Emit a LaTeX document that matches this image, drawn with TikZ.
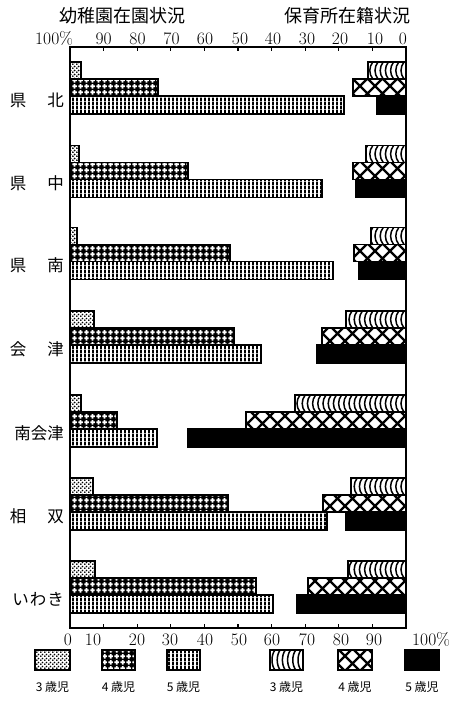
\documentclass[tikz,border=0pt]{standalone}
\usepackage{fontspec}
\usepackage{tikz}
\usetikzlibrary{patterns,positioning}
\newfontfamily\jp{Noto Sans CJK JP}

\pgfdeclarepatternformonly{finedots}{\pgfqpoint{0pt}{0pt}}{\pgfqpoint{4pt}{4pt}}{\pgfqpoint{4pt}{4pt}}{%
  \pgfpathcircle{\pgfqpoint{1pt}{1pt}}{1.15pt}
  \pgfpathcircle{\pgfqpoint{3pt}{3pt}}{1.15pt}
  \pgfusepath{fill}}
\pgfdeclarepatternformonly{whiteplus}{\pgfqpoint{0pt}{0pt}}{\pgfqpoint{6pt}{6pt}}{\pgfqpoint{6pt}{6pt}}{%
  \pgfpathrectangle{\pgfqpoint{2pt}{0.5pt}}{\pgfqpoint{2pt}{5pt}}
  \pgfpathrectangle{\pgfqpoint{0.5pt}{2pt}}{\pgfqpoint{5pt}{2pt}}
  \pgfusepath{fill}}
\pgfdeclarepatternformonly{vstripes}{\pgfqpoint{0pt}{0pt}}{\pgfqpoint{4pt}{4pt}}{\pgfqpoint{4pt}{4pt}}{%
  \pgfpathrectangle{\pgfqpoint{0pt}{0pt}}{\pgfqpoint{2.2pt}{4pt}}
  \pgfusepath{fill}}
\pgfdeclarepatternformonly{bigcross}{\pgfqpoint{-1pt}{-1pt}}{\pgfqpoint{16pt}{16pt}}{\pgfqpoint{15pt}{15pt}}{%
  \pgfsetlinewidth{2.3pt}
  \pgfpathmoveto{\pgfqpoint{-1pt}{-1pt}}\pgfpathlineto{\pgfqpoint{16pt}{16pt}}
  \pgfpathmoveto{\pgfqpoint{-1pt}{16pt}}\pgfpathlineto{\pgfqpoint{16pt}{-1pt}}
  \pgfusepath{stroke}}

\tikzset{
  bar/.style={draw=black,line width=1.3pt},
  kthree/.style={bar,pattern=finedots},
  kfour/.style={bar,preaction={fill=black},pattern=whiteplus,pattern color=white},
  kfive/.style={bar,pattern=vstripes},
  nfour/.style={bar,pattern=bigcross},
  nfive/.style={bar,fill=black},
  num/.style={font=\fontsize{17.5}{17.5}\selectfont,anchor=base,inner sep=0pt},
  area/.style={font=\jp\fontsize{16.5}{17}\selectfont,anchor=east,inner sep=0pt},
  head/.style={font=\jp\fontsize{18}{18}\selectfont,inner sep=0pt},
  key/.style={font=\jp\fontsize{12}{12}\selectfont,inner sep=0pt}
}

\newcommand{\wavebar}[4]{%
  \begin{scope}
    \clip (#1,#2) rectangle (#3,#4);
    \foreach \i in {0,...,24}
      \draw[line width=1.5pt] ({#3-2-5.2*\i},#2) .. controls ({#3-6-5.2*\i},{#2+5}) and ({#3-6-5.2*\i},{#4-5}) .. ({#3-2-5.2*\i},#4);
  \end{scope}
  \draw[bar] (#1,#2) rectangle (#3,#4);}

\begin{document}
\begin{tikzpicture}[x=1pt,y=-1pt]
      \useasboundingbox (0,0) rectangle (454,701);
      \node[head] at (122.5,15.5) (kinder) {幼稚園在園状況};
      \node[head] at (347,15.5) (hoiku) {保育所在籍状況};
      \foreach \x/\t [count=\n] in {54/100\%,103.6/90,137.5/80,171.5/70,205/60,240/50,273/40,307/30,340/20,375/10,403/0}
        \node[num] at (\x,45) (top\n) {\t};
      \foreach \x/\t [count=\n] in {68/0,93/10,137/20,170/30,205/40,239/50,272/60,307/70,341/80,374/90,431/100\%}
        \node[num] at (\x,645) (bot\n) {\t};
      \node[area] at (64,100) (kenpoku) {県\hspace{21pt}北};
      \node[area] at (64,183.5) (kenchu) {県\hspace{21pt}中};
      \node[area] at (64,265.5) (kennan) {県\hspace{21pt}南};
      \node[area] at (64,349) (aizu) {会\hspace{21pt}津};
      \node[area] at (64,433) (minamiaizu) {南会津};
      \node[area] at (64,516) (soso) {相\hspace{21pt}双};
      \node[area] at (64,599.5) (iwaki) {い\hspace{1pt}わ\hspace{1pt}き};
      \draw[kthree] (70,62) rectangle (81,79);
      \draw[kfour] (70,79) rectangle (158,96);
      \draw[kfive] (70,96) rectangle (344,114);
      \wavebar{368}{62}{406}{79}
      \draw[nfour] (353,79) rectangle (406,96);
      \draw[nfive] (377,96) rectangle (406,114);
      \draw[kthree] (70,145.5) rectangle (79,162.5);
      \draw[kfour] (70,162.5) rectangle (188,179.5);
      \draw[kfive] (70,179.5) rectangle (322,197.5);
      \wavebar{366}{145.5}{406}{162.5}
      \draw[nfour] (353,162.5) rectangle (406,179.5);
      \draw[nfive] (356,179.5) rectangle (406,197.5);
      \draw[kthree] (70,227.5) rectangle (77,244.5);
      \draw[kfour] (70,244.5) rectangle (230,261.5);
      \draw[kfive] (70,261.5) rectangle (333,279.5);
      \wavebar{371}{227.5}{406}{244.5}
      \draw[nfour] (354,244.5) rectangle (406,261.5);
      \draw[nfive] (359,261.5) rectangle (406,279.5);
      \draw[kthree] (70,311) rectangle (94,328);
      \draw[kfour] (70,328) rectangle (234,345);
      \draw[kfive] (70,345) rectangle (261,363);
      \wavebar{346}{311}{406}{328}
      \draw[nfour] (322,328) rectangle (406,345);
      \draw[nfive] (317,345) rectangle (406,363);
      \draw[kthree] (70,395) rectangle (81,412);
      \draw[kfour] (70,412) rectangle (117,429);
      \draw[kfive] (70,429) rectangle (157,447);
      \wavebar{295}{395}{406}{412}
      \draw[nfour] (246,412) rectangle (406,429);
      \draw[nfive] (188,429) rectangle (406,447);
      \draw[kthree] (70,478) rectangle (93,495);
      \draw[kfour] (70,495) rectangle (228,512);
      \draw[kfive] (70,512) rectangle (327,530);
      \wavebar{351}{478}{406}{495}
      \draw[nfour] (323,495) rectangle (406,512);
      \draw[nfive] (346,512) rectangle (406,530);
      \draw[kthree] (70,561) rectangle (95,578);
      \draw[kfour] (70,578) rectangle (256,595);
      \draw[kfive] (70,595) rectangle (273,613);
      \wavebar{348}{561}{406}{578}
      \draw[nfour] (308,578) rectangle (406,595);
      \draw[nfive] (297,595) rectangle (406,613);
      \draw[line width=2pt] (70,47) rectangle (406,628);
      \foreach \i in {1,...,9} {
        \draw[line width=1.2pt] ({70+33.6*\i},47) -- ++(0,4.5);
        \draw[line width=1.2pt] ({70+33.6*\i},628) -- ++(0,-4.5);
      }
      \draw[kthree] (35,650) rectangle (70,670);
      \draw[kfour] (102,650) rectangle (135,670);
      \draw[kfive] (167,650) rectangle (200,670);
      \wavebar{270}{650}{303}{670}
      \draw[nfour] (338,650) rectangle (372,670);
      \draw[nfive] (405,650) rectangle (439,670);
      \node[key] at (52.5,687) (k3) {3 歳児};
      \node[key] at (118.5,687) (k4) {4 歳児};
      \node[key] at (183.5,687) (k5) {5 歳児};
      \node[key] at (286.5,687) (n3) {3 歳児};
      \node[key] at (355,687) (n4) {4 歳児};
      \node[key] at (422,687) (n5) {5 歳児};
    \end{tikzpicture}
\end{document}
